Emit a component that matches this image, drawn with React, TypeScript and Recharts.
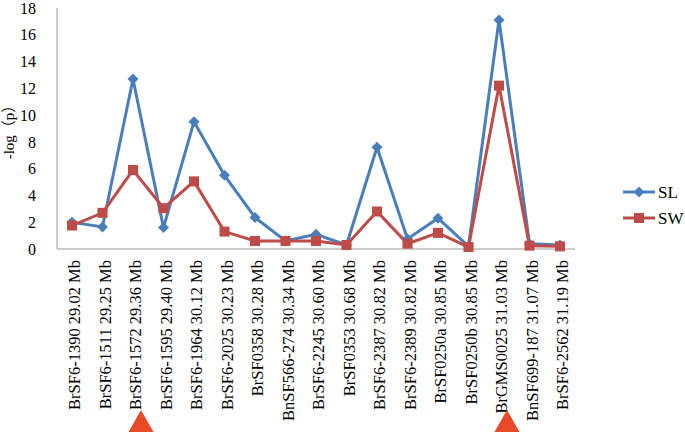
import { Legend, Line, LineChart, XAxis, YAxis } from "recharts"

const MARKERS = [
    "BrSF6-1390 29.02 Mb",
    "BrSF6-1511 29.25 Mb",
    "BrSF6-1572 29.36 Mb",
    "BrSF6-1595 29.40 Mb",
    "BrSF6-1964 30.12 Mb",
    "BrSF6-2025 30.23 Mb",
    "BrSF0358 30.28 Mb",
    "BnSF566-274 30.34 Mb",
    "BrSF6-2245 30.60 Mb",
    "BrSF0353 30.68 Mb",
    "BrSF6-2387 30.82 Mb",
    "BrSF6-2389 30.82 Mb",
    "BrSF0250a 30.85 Mb",
    "BrSF0250b 30.85 Mb",
    "BrGMS0025 31.03 Mb",
    "BnSF699-187 31.07 Mb",
    "BrSF6-2562 31.19 Mb",
]
const SL = [2.0, 1.65, 12.7, 1.6, 9.5, 5.5, 2.35, 0.6, 1.1, 0.3, 7.6, 0.75, 2.3, 0.2, 17.1, 0.4, 0.3]
const SW = [1.75, 2.7, 5.9, 3.05, 5.05, 1.3, 0.6, 0.6, 0.6, 0.3, 2.8, 0.4, 1.2, 0.15, 12.2, 0.25, 0.2]
const Y_TICKS = [0, 2, 4, 6, 8, 10, 12, 14, 16, 18]
const HIGHLIGHTED = ["BrSF6-1572 29.36 Mb", "BrGMS0025 31.03 Mb"]

const BLUE = "#4a7ebb"
const RED = "#be4b48"
const FONT = '"Liberation Serif", "Times New Roman", serif'

const data = MARKERS.map((marker, i) => ({ marker, SL: SL[i], SW: SW[i] }))

const Diamond = ({ cx, cy, size = 5.5 }: any) => (
    <polygon
        points={`${cx},${cy - size} ${cx + size},${cy} ${cx},${cy + size} ${cx - size},${cy}`}
        fill={BLUE}
    />
)

const Square = ({ cx, cy, size = 5 }: any) => (
    <rect x={cx - size} y={cy - size} width={size * 2} height={size * 2} fill={RED} />
)

const XTick = ({ x, y, payload }: any) => (
    <g transform={`translate(${x},${y})`}>
        <text
            transform="rotate(-90)"
            x={-9}
            y={0}
            dy={8}
            textAnchor="end"
            fontSize={16.5}
            fontFamily={FONT}
            fill="#000"
        >
            {payload.value}
        </text>
        {HIGHLIGHTED.includes(payload.value) && (
            <polygon points="-4.5,181 8,159 20.5,181" fill="#e84a27" />
        )}
    </g>
)

const LegendContent = () => (
    <svg width={70} height={50}>
        <line x1={8} y1={14} x2={40} y2={14} stroke={BLUE} strokeWidth={3} />
        <Diamond cx={24} cy={14} />
        <text x={43} y={19.5} fontSize={17} fontFamily={FONT}>SL</text>
        <line x1={8} y1={40} x2={40} y2={40} stroke={RED} strokeWidth={3} />
        <Square cx={24} cy={40} />
        <text x={43} y={45.5} fontSize={17} fontFamily={FONT}>SW</text>
    </svg>
)

export default function App() {
    return (
        <div style={{ position: "absolute", left: 0, top: 0, background: "#fff" }}>
            <LineChart
                width={685}
                height={437}
                data={data}
                margin={{ top: 8, right: 40, left: 0, bottom: 0 }}
            >
                <XAxis
                    dataKey="marker"
                    interval={0}
                    height={188}
                    padding={{ left: 15, right: 15 }}
                    tickLine={false}
                    tickSize={0}
                    tick={<XTick />}
                    axisLine={{ stroke: "#999" }}
                />
                <YAxis
                    domain={[0, 18]}
                    ticks={Y_TICKS}
                    interval={0}
                    width={57}
                    tickLine={false}
                    tickMargin={15}
                    axisLine={{ stroke: "#999" }}
                    tick={{ fill: "#000", fontSize: 16, fontFamily: FONT }}
                    label={{
                        value: "-log（p）",
                        angle: -90,
                        position: "insideLeft",
                        dx: 4,
                        style: { fill: "#000", fontSize: 15, fontFamily: FONT + ', "Noto Sans CJK SC"', textAnchor: "middle" },
                    }}
                />
                <Legend
                    layout="vertical"
                    align="right"
                    verticalAlign="top"
                    content={<LegendContent />}
                    wrapperStyle={{ left: 615, top: 178, width: 70 }}
                />
                <Line
                    dataKey="SL"
                    stroke={BLUE}
                    strokeWidth={3}
                    dot={(p: any) => <Diamond key={p.index} cx={p.cx} cy={p.cy} />}
                    isAnimationActive={false}
                />
                <Line
                    dataKey="SW"
                    stroke={RED}
                    strokeWidth={3}
                    dot={(p: any) => <Square key={p.index} cx={p.cx} cy={p.cy} />}
                    isAnimationActive={false}
                />
            </LineChart>
        </div>
    )
}
